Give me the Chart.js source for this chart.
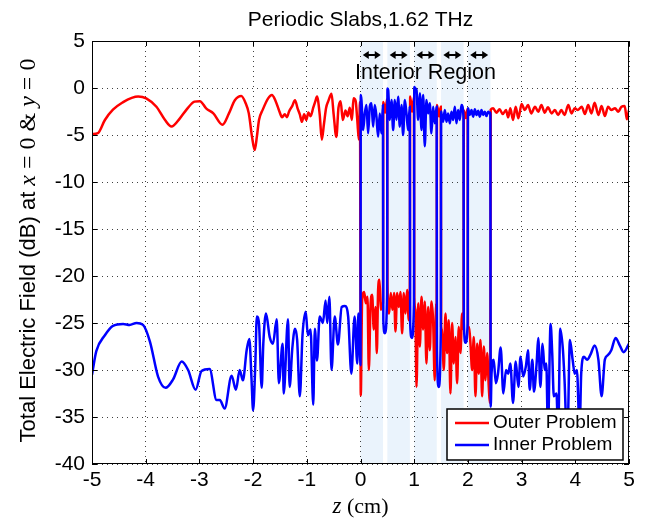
<!DOCTYPE html>
<html><head><meta charset="utf-8">
<script src="https://cdn.jsdelivr.net/npm/chart.js@4"></script>
<style>html,body{margin:0;padding:0;background:#fff;}#wrap{width:649px;height:521px;}</style>
</head><body><div id="wrap"><canvas id="c" width="649" height="521"></canvas></div>
<script>
const titleText = 'Periodic Slabs,1.62 THz';
const xTicks = [-5,-4,-3,-2,-1,0,1,2,3,4,5];
const yTicks = [5,0,-5,-10,-15,-20,-25,-30,-35,-40];
const slabStart = [0, 0.5, 1.0, 1.5, 2.0];
const slabEnd = [0.42, 0.92, 1.42, 1.92, 2.42];
const regionLabel = 'Interior Region';
const seriesNames = ['Outer Problem', 'Inner Problem'];

const outerZ = [-5.00,-4.89,-4.76,-4.61,-4.42,-4.26,-4.14,-3.99,-3.80,-3.64,-3.52,-3.36,-3.24,-3.09,-2.99,-2.87,-2.74,-2.57,-2.45,-2.34,-2.22,-2.14,-2.08,-2.02,-1.97,-1.93,-1.89,-1.82,-1.72,-1.65,-1.58,-1.51,-1.46,-1.41,-1.37,-1.33,-1.27,-1.22,-1.17,-1.13,-1.09,-1.05,-1.01,-0.97,-0.93,-0.88,-0.84,-0.81,-0.76,-0.72,-0.68,-0.64,-0.60,-0.54,-0.50,-0.45,-0.41,-0.37,-0.33,-0.28,-0.24,-0.20,-0.16,-0.13,-0.09,-0.06,-0.03,-0.01,
0.005,0.03,0.068,0.099,0.13,0.155,0.186,0.217,0.248,0.279,0.304,0.328,0.353,0.378,0.403,0.418,
0.425,0.46,0.495,
0.502,0.533,0.564,0.595,0.626,0.651,0.682,0.713,0.744,0.775,0.806,0.837,0.868,0.899,0.918,
0.925,0.96,0.995,
1.002,1.02,1.043,1.074,1.105,1.136,1.167,1.197,1.228,1.259,1.29,1.321,1.352,1.383,1.408,1.418,
1.425,1.46,1.495,
1.502,1.52,1.551,1.582,1.613,1.644,1.675,1.706,1.737,1.768,1.799,1.83,1.861,1.892,1.918,
1.925,1.96,1.995,
2.002,2.02,2.048,2.079,2.11,2.141,2.172,2.203,2.234,2.265,2.296,2.327,2.358,2.389,2.408,2.418,
2.425,2.47,2.53,2.59,2.65,2.71,2.75,2.79,2.84,2.89,2.94,3.00,3.06,3.12,3.18,3.25,3.31,3.37,3.43,3.49,3.56,3.62,3.68,3.74,3.80,3.87,3.93,3.99,4.05,4.12,4.18,4.24,4.30,4.36,4.43,4.49,4.55,4.61,4.67,4.74,4.80,4.86,4.92,4.96,5.00];
const outerDb = [-4.9,-4.8,-3.4,-2.3,-1.5,-1.05,-0.9,-1.1,-2.0,-3.4,-4.1,-3.2,-2.3,-1.45,-1.4,-2.2,-2.7,-3.9,-2.7,-1.3,-0.85,-1.6,-2.7,-5.2,-6.6,-5.2,-3.4,-2.3,-1.1,-0.75,-1.4,-2.5,-3.1,-2.8,-3.1,-2.5,-1.9,-1.3,-2.2,-2.8,-3.6,-2.8,-3.4,-2.6,-3.0,-2.1,-1.4,-0.9,-2.8,-5.5,-3.8,-2.1,-1.4,-0.6,-2.8,-5.2,-2.1,-1.4,-3.4,-2.4,-3.0,-2.1,-3.4,-1.1,-1.4,-3.4,-5.5,-1.5,
-32.7,-22.6,-21.7,-22.9,-22.2,-30.0,-23.3,-22.0,-25.7,-23.3,-28.2,-21.5,-20.4,-23.6,-22.9,-23.0,
-1.5,-2.6,-1.2,
-20.8,-24.0,-21.8,-23.6,-21.8,-25.9,-21.8,-23.3,-21.7,-26.1,-21.8,-24.0,-21.5,-24.7,-22.5,
-0.9,-2.5,-1.0,
-22.3,-23.6,-31.8,-22.9,-27.5,-22.2,-25.7,-22.7,-29.3,-23.3,-27.9,-22.7,-24.7,-31.1,-22.9,-24.0,
-1.8,-3.0,-2.0,
-25.4,-25.7,-30.0,-24.0,-28.2,-24.7,-32.5,-25.0,-29.3,-26.5,-31.4,-25.4,-28.2,-24.0,-25.7,
-2.4,-3.2,-2.2,
-25.4,-25.4,-27.2,-30.0,-26.5,-32.8,-27.2,-30.4,-26.8,-32.8,-27.5,-31.1,-28.2,-31.8,-33.5,-30.0,
-2.3,-2.16,-2.62,-2.27,-2.77,-2.34,-3.12,-2.16,-3.40,-1.99,-3.23,-1.70,-2.34,-1.81,-2.70,-1.99,-2.52,-1.81,-2.62,-2.06,-2.70,-2.34,-2.87,-2.34,-2.87,-1.81,-2.70,-2.16,-2.34,-1.99,-2.77,-1.81,-2.70,-1.56,-2.87,-1.91,-2.98,-1.99,-2.34,-2.16,-2.52,-1.99,-1.91,-3.33,-2.34];

const innerZ = [-5.00,-4.92,-4.76,-4.61,-4.42,-4.30,-4.17,-4.05,-3.92,-3.77,-3.63,-3.49,-3.33,-3.21,-3.07,-2.96,-2.81,-2.68,-2.62,-2.53,-2.40,-2.32,-2.25,-2.19,-2.12,-2.07,-2.03,-2.00,-1.96,-1.93,-1.89,-1.84,-1.81,-1.76,-1.69,-1.63,-1.56,-1.52,-1.45,-1.43,-1.35,-1.32,-1.27,-1.22,-1.18,-1.13,-1.08,-1.02,-0.98,-0.93,-0.88,-0.85,-0.81,-0.76,-0.70,-0.65,-0.62,-0.58,-0.54,-0.48,-0.42,-0.35,-0.29,-0.23,-0.17,-0.11,-0.06,-0.04,-0.01,0.0,
0.005,0.018,0.049,0.08,0.111,0.142,0.173,0.204,0.235,0.266,0.297,0.328,0.359,0.39,0.418,
0.425,0.455,0.495,
0.502,0.515,0.546,0.577,0.608,0.639,0.67,0.701,0.732,0.763,0.794,0.825,0.856,0.887,0.918,
0.925,0.955,0.995,
1.002,1.012,1.043,1.074,1.105,1.136,1.167,1.197,1.228,1.259,1.29,1.321,1.352,1.383,1.418,
1.425,1.455,1.495,
1.502,1.508,1.539,1.57,1.601,1.632,1.663,1.694,1.725,1.756,1.787,1.818,1.849,1.88,1.918,
1.925,1.955,1.995,
2.002,2.036,2.067,2.098,2.129,2.16,2.191,2.222,2.253,2.284,2.315,2.346,2.377,2.408,2.418,
2.425,2.44,2.48,2.52,2.56,2.61,2.66,2.71,2.75,2.79,2.84,2.89,2.94,2.98,3.03,3.08,3.12,3.15,3.20,3.23,3.28,3.31,3.35,3.39,3.43,3.46,3.49,3.54,3.57,3.60,3.65,3.68,3.72,3.77,3.80,3.85,3.90,3.95,3.99,4.03,4.08,4.11,4.16,4.22,4.28,4.36,4.43,4.49,4.55,4.61,4.67,4.75,4.83,4.90,5.00];
const innerDb = [-30.5,-28.0,-26.3,-25.3,-25.1,-25.2,-25.0,-25.2,-27.0,-30.7,-31.9,-31.0,-29.1,-30.0,-32.1,-30.1,-29.9,-33.2,-33.2,-34.1,-30.6,-32.1,-30.0,-31.1,-27.9,-26.7,-30.9,-34.3,-29.6,-24.3,-25.1,-31.9,-27.2,-24.0,-26.5,-27.2,-24.6,-31.4,-27.2,-32.5,-24.6,-31.8,-27.7,-25.6,-26.8,-32.8,-26.3,-23.8,-26.3,-25.7,-33.7,-25.6,-29.0,-24.3,-25.0,-22.6,-25.0,-22.2,-30.0,-24.3,-27.3,-23.3,-23.2,-24.3,-30.4,-24.3,-29.3,-24.0,-28.0,-29.5,
-0.75,-1.28,-4.47,-2.70,-1.81,-4.82,-1.99,-1.63,-4.11,-1.81,-3.05,-5.18,-2.70,-4.82,-1.81,
-24.7,-26.1,-22.0,
-0.04,-0.21,-3.40,-1.28,-4.47,-1.28,-3.40,-0.92,-4.11,-1.81,-5.0,-1.28,-2.70,-4.47,-1.99,
-25.0,-26.6,-23.0,
0.1,0.0,-0.21,-3.40,-0.57,-4.47,-0.74,-6.2,-1.28,-2.70,-1.63,-4.82,-1.99,-3.76,-1.99,
-28.0,-31.8,-26.0,
-2.5,-2.70,-3.58,-2.34,-3.58,-2.70,-3.76,-2.52,-3.40,-1.99,-3.76,-2.34,-3.40,-1.81,-3.05,
-24.9,-27.1,-25.0,
-2.16,-2.87,-2.34,-3.05,-2.27,-2.87,-2.41,-3.05,-2.34,-2.87,-2.52,-2.98,-2.52,-2.70,-2.6,
-33.9,-30.4,-28.9,-31.4,-30.4,-27.6,-32.5,-30.0,-30.4,-29.3,-33.5,-29.1,-31.8,-28.6,-30.7,-29.6,-27.9,-32.1,-28.9,-32.3,-29.3,-26.6,-31.8,-27.2,-30.0,-29.3,-36.5,-25.1,-28.2,-32.8,-32.5,-37.0,-25.6,-27.9,-31.1,-38.0,-26.8,-28.9,-30.4,-30.0,-36.5,-30.4,-28.6,-28.9,-28.4,-27.4,-28.9,-32.8,-28.9,-28.4,-27.9,-26.6,-27.4,-28.1,-27.2];

const SANS = '"Liberation Sans", Arial, Helvetica, sans-serif';
const SERIF = '"Liberation Serif", "Times New Roman", serif';
const fmt = v => String(v);

function drawArrow(ctx, cx, cy, half) {
  const head = 6, hh = 4;
  ctx.beginPath();
  ctx.moveTo(cx - half + head - 1, cy); ctx.lineTo(cx + half - head + 1, cy);
  ctx.lineWidth = 2; ctx.stroke();
  ctx.beginPath();
  ctx.moveTo(cx - half, cy); ctx.lineTo(cx - half + head, cy - hh); ctx.lineTo(cx - half + head, cy + hh); ctx.closePath();
  ctx.moveTo(cx + half, cy); ctx.lineTo(cx + half - head, cy - hh); ctx.lineTo(cx + half - head, cy + hh); ctx.closePath();
  ctx.fill();
}

const decor = {
  id: 'decor',
  beforeDraw(chart) {
    const {ctx, chartArea: a, scales: {x}} = chart;
    ctx.save();
    ctx.fillStyle = '#eaf3fc';
    slabStart.forEach((s, i) => {
      const x0 = x.getPixelForValue(s), x1 = x.getPixelForValue(slabEnd[i]);
      ctx.fillRect(x0, a.top, x1 - x0, a.bottom - a.top);
    });
    ctx.restore();
  },
  afterDraw(chart) {
    const {ctx, chartArea: a, scales: {x, y}} = chart;
    ctx.save();
    ctx.strokeStyle = '#000'; ctx.lineWidth = 1;
    ctx.strokeRect(a.left + 0.5, a.top + 0.5, a.right - a.left - 1, a.bottom - a.top - 1);
    ctx.beginPath();
    xTicks.forEach(v => {
      const px = Math.round(x.getPixelForValue(v)) + 0.5;
      ctx.moveTo(px, a.bottom); ctx.lineTo(px, a.bottom - 5);
      ctx.moveTo(px, a.top); ctx.lineTo(px, a.top + 5);
    });
    yTicks.forEach(v => {
      const py = Math.round(y.getPixelForValue(v)) + 0.5;
      ctx.moveTo(a.left, py); ctx.lineTo(a.left + 5, py);
      ctx.moveTo(a.right, py); ctx.lineTo(a.right - 5, py);
    });
    ctx.stroke();
    ctx.fillStyle = '#000'; ctx.strokeStyle = '#000';
    slabStart.forEach((s, i) => {
      const cx = x.getPixelForValue((s + slabEnd[i]) / 2);
      drawArrow(ctx, cx, a.top + 14, 9);
    });
    ctx.textAlign = 'center';
    ctx.font = '21.5px ' + SANS;
    ctx.textBaseline = 'alphabetic';
    ctx.fillText(regionLabel, x.getPixelForValue((slabStart[0] + slabEnd[slabEnd.length - 1]) / 2), a.top + 38);
    ctx.font = '21px ' + SANS;
    ctx.fillText(titleText, (a.left + a.right) / 2, 26);
    drawMixed(ctx, [['z', 'italic 23px ' + SERIF], [' (cm)', '22px ' + SERIF]], (a.left + a.right) / 2, 513);
    ctx.save();
    ctx.translate(28, (a.top + a.bottom) / 2 - 2);
    ctx.rotate(-Math.PI / 2);
    drawMixed(ctx, [['Total Electric Field (dB) at ', '22px ' + SANS], ['x', 'italic 24px ' + SERIF], [' = 0 & ', '24px ' + SERIF], ['y', 'italic 24px ' + SERIF], [' = 0', '24px ' + SERIF]], 0, 7);
    ctx.restore();
    const lx = 447, ly = 409, lw = 176, lh = 51;
    ctx.fillStyle = '#fff';
    ctx.fillRect(lx, ly, lw, lh);
    ctx.strokeStyle = '#000'; ctx.lineWidth = 1.5;
    ctx.strokeRect(lx, ly, lw, lh);
    const ds = chart.data.datasets;
    ctx.font = '19px ' + SANS; ctx.textAlign = 'left'; ctx.textBaseline = 'middle';
    [0, 1].forEach(i => {
      const yy = ly + 14 + i * 22;
      ctx.strokeStyle = ds[i].borderColor; ctx.lineWidth = 2.5;
      ctx.beginPath(); ctx.moveTo(lx + 8, yy); ctx.lineTo(lx + 42, yy); ctx.stroke();
      ctx.fillStyle = '#000';
      ctx.fillText(ds[i].label, lx + 46, yy);
    });
    ctx.restore();
  }
};

function drawMixed(ctx, parts, cx, baseline) {
  let total = 0;
  parts.forEach(p => { ctx.font = p[1]; total += ctx.measureText(p[0]).width; });
  let xx = cx - total / 2;
  ctx.textAlign = 'left'; ctx.textBaseline = 'alphabetic'; ctx.fillStyle = '#000';
  parts.forEach(p => { ctx.font = p[1]; ctx.fillText(p[0], xx, baseline); xx += ctx.measureText(p[0]).width; });
}

const pts = (zs, vs) => zs.map((z, i) => ({x: z, y: vs[i]}));

new Chart(document.getElementById('c'), {
  type: 'scatter',
  data: {
    datasets: [
      {label: seriesNames[0], data: pts(outerZ, outerDb), borderColor: '#ff0000', showLine: true, pointRadius: 0, borderWidth: 2.5, cubicInterpolationMode: 'monotone', order: 1},
      {label: seriesNames[1], data: pts(innerZ, innerDb), borderColor: '#0000ff', showLine: true, pointRadius: 0, borderWidth: 2.5, cubicInterpolationMode: 'monotone', order: 0}
    ]
  },
  options: {
    responsive: false, animation: false, devicePixelRatio: 1,
    layout: {padding: {top: 41, right: 20, left: 0, bottom: 0}},
    plugins: {legend: {display: false}, title: {display: false}, tooltip: {enabled: false}},
    scales: {
      x: {
        type: 'linear', min: -5, max: 5,
        afterBuildTicks: s => { s.ticks = xTicks.map(v => ({value: v})); },
        afterFit: s => { s.height = 57; },
        ticks: {font: {family: SANS, size: 21}, color: '#000', padding: 4, maxRotation: 0, autoSkip: false, callback: v => fmt(v)},
        grid: {color: 'rgba(0,0,0,0.75)', lineWidth: 1, drawTicks: false},
        border: {display: false, dash: [1, 4]}
      },
      y: {
        type: 'linear', min: -40, max: 5,
        afterBuildTicks: s => { s.ticks = yTicks.map(v => ({value: v})); },
        afterFit: s => { s.width = 92; },
        ticks: {font: {family: SANS, size: 21}, color: '#000', padding: 7, autoSkip: false, callback: v => fmt(v)},
        grid: {color: 'rgba(0,0,0,0.75)', lineWidth: 1, drawTicks: false},
        border: {display: false, dash: [1, 4]}
      }
    }
  },
  plugins: [decor]
});
</script>
</body></html>
